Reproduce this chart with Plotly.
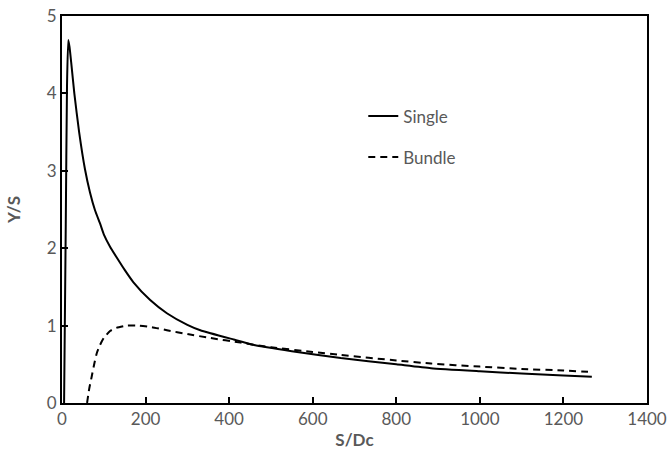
import plotly.graph_objects as go

# Single pile response
single_x = [5, 9, 12, 15, 18, 22, 29.5, 41, 55, 67, 79, 91, 100, 115, 131, 150,
            171, 211, 251, 300, 331, 411, 460, 550, 667, 800, 883, 1000, 1100,
            1200, 1268]
single_y = [0, 2.3, 4.1, 4.69, 4.6, 4.4, 4.0, 3.50, 3.02, 2.72, 2.49, 2.32, 2.18,
            2.02, 1.88, 1.72, 1.56, 1.33, 1.16, 1.01, 0.94, 0.82, 0.75, 0.67,
            0.58, 0.50, 0.45, 0.41, 0.38, 0.355, 0.34]

# Bundle response
bundle_x = [60, 65, 71, 77, 83, 91, 100, 115, 130, 155, 184, 215, 251, 300, 355,
            427, 500, 600, 667, 800, 883, 1000, 1100, 1200, 1268]
bundle_y = [0, 0.18, 0.34, 0.50, 0.64, 0.75, 0.84, 0.93, 0.97, 1.0, 1.0, 0.98,
            0.94, 0.89, 0.84, 0.78, 0.72, 0.66, 0.62, 0.55, 0.51, 0.47, 0.44,
            0.42, 0.40]

x_ticks = [0, 200, 400, 600, 800, 1000, 1200, 1400]
y_ticks = [0, 1, 2, 3, 4, 5]

FONT = "Lato"
GREY = "#595959"

fig = go.Figure()
fig.add_trace(go.Scatter(
    x=single_x, y=single_y, mode="lines", name="Single", legendgroup="single",
    line=dict(color="black", width=2, shape="spline", smoothing=0.5),
))
fig.add_trace(go.Scatter(
    x=bundle_x, y=bundle_y, mode="lines", name="Bundle", legendgroup="bundle",
    line=dict(color="black", width=2, dash="7px,5px", shape="spline", smoothing=0.5),
))

axis_common = dict(
    showgrid=False, zeroline=False, automargin=False,
    showline=True, linecolor="black", linewidth=2, mirror=True,
    ticks="inside", ticklen=6, tickwidth=1.5, tickcolor="black",
    tickfont=dict(family=FONT, size=17, color=GREY),
)

fig.update_layout(
    width=667, height=469,
    margin=dict(l=62, r=20, t=16, b=66),
    paper_bgcolor="white", plot_bgcolor="white",
    xaxis=dict(range=[0, 1400], tickvals=x_ticks,
               title=dict(text="<b>S/Dc</b>", font=dict(family=FONT, size=17, color=GREY),
                          standoff=6),
               **axis_common),
    yaxis=dict(range=[0, 5], tickvals=y_ticks,
               title=dict(text="<b>Y/S</b>", font=dict(family=FONT, size=17, color=GREY),
                          standoff=22),
               **axis_common),
    legend=dict(x=0.515, y=0.787, xanchor="left", yanchor="top",
                bgcolor="rgba(0,0,0,0)", font=dict(family=FONT, size=17, color=GREY),
                tracegroupgap=16, itemwidth=30),
)

fig.write_html("out.html")
